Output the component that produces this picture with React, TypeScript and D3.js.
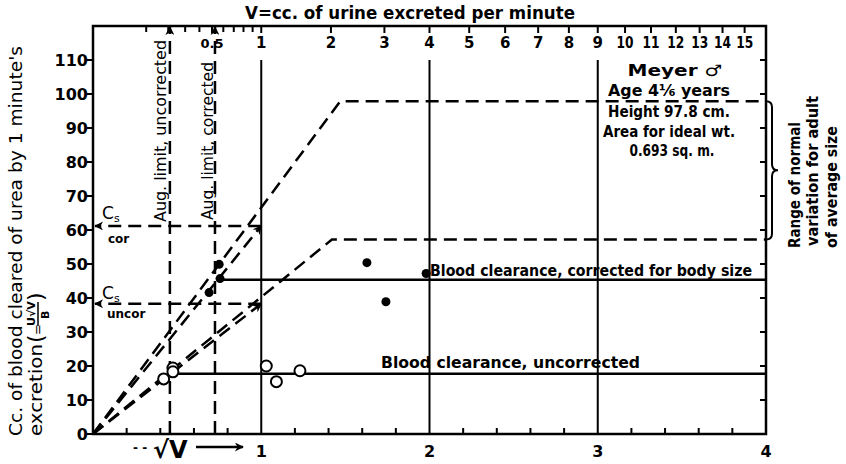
import React from "react";
import * as d3 from "d3";

const width = 846;
const height = 464;
const left = 93;
const right = 766;
const top = 26;
const bottom = 434;

// axis values
const sqrtVTicks = [1, 2, 3, 4];
const sqrtVMinor = [0.2, 0.4, 0.6, 0.8, 1.2, 1.4, 1.6, 1.8, 2.2, 2.4, 2.6, 2.8, 3.2, 3.4, 3.6, 3.8];
const vLabels = [0.5, 1, 2, 3, 4, 5, 6, 7, 8, 9, 10, 11, 12, 13, 14, 15];
const vMinor = [0.1, 0.2, 0.3, 0.4, 0.6, 0.7, 0.8, 0.9];
const yTicks = [0, 10, 20, 30, 40, 50, 60, 70, 80, 90, 100, 110];
const gridX = [1, 2, 3];

// observations [sqrt V, clearance]
const correctedPts = [
  [0.75, 49.9],
  [0.755, 45.7],
  [0.69, 41.6],
  [1.628, 50.4],
  [1.741, 38.9],
  [1.98, 47.2],
];
const uncorrectedPts = [
  [0.42, 16.2],
  [0.475, 19.4],
  [0.475, 18.3],
  [1.03, 20.0],
  [1.09, 15.4],
  [1.23, 18.6],
];

// derived lines
const clearanceCorrected = 45.4;
const clearanceUncorrected = 17.7;
const augLimitUncorrected = 0.457;
const augLimitCorrected = 0.725;
const csCorrected = 61.2;
const csUncorrected = 38.3;
const rangeUpper = [
  [0, 0],
  [1.47, 97.9],
  [4, 97.9],
];
const rangeLower = [
  [0, 0],
  [1.42, 57.2],
  [4, 57.2],
];

const font = "'DejaVu Sans', sans-serif";
const dash = "13 7";

export default function App() {
  const x = d3.scaleLinear().domain([0, 4]).range([left, right]);
  const y = d3.scaleLinear().domain([0, 120]).range([bottom, top]);
  const line = d3
    .line<number[]>()
    .x((d) => x(d[0]))
    .y((d) => y(d[1]));

  const yU = y(rangeUpper[1][1]);
  const yL = y(rangeLower[1][1]);
  const yM = (yU + yL) / 2;
  const bx = right + 6;
  const brace = `M${right},${yU} Q${bx},${yU} ${bx},${yU + 6} L${bx},${yM - 6} Q${bx},${yM} ${bx + 6},${yM} Q${bx},${yM} ${bx},${yM + 6} L${bx},${yL - 6} Q${bx},${yL} ${right},${yL}`;

  return (
    <svg
      width={width}
      height={height}
      style={{ position: "absolute", left: 0, top: 0, background: "#fff" }}
      fontFamily={font}
      fontWeight="bold"
    >
      <defs>
        <marker
          id="arr"
          viewBox="0 0 10 10"
          refX="9"
          refY="5"
          markerWidth="11"
          markerHeight="9"
          markerUnits="userSpaceOnUse"
          orient="auto"
        >
          <path d="M0,0 L10,5 L0,10 L3,5 z" fill="#000" />
        </marker>
      </defs>

      {/* title */}
      <text x={245} y={19} fontSize={17} textLength={330} lengthAdjust="spacingAndGlyphs">
        V=cc. of urine excreted per minute
      </text>

      {/* grid lines */}
      {gridX.map((d) => (
        <line key={d} x1={x(d)} x2={x(d)} y1={y(0)} y2={y(110)} stroke="#000" strokeWidth={2} />
      ))}

      {/* frame */}
      <rect x={left} y={top} width={right - left} height={bottom - top} fill="none" stroke="#000" strokeWidth={2.5} />

      {/* left axis */}
      {yTicks.map((d) => (
        <g key={d}>
          <line x1={left - 6} x2={left} y1={y(d)} y2={y(d)} stroke="#000" strokeWidth={2} />
          <line x1={right - 6} x2={right} y1={y(d)} y2={y(d)} stroke="#000" strokeWidth={2} />
          <text x={left - 5} y={y(d) + 6} fontSize={16} textAnchor="end">
            {d}
          </text>
        </g>
      ))}

      {/* bottom axis */}
      {sqrtVMinor.map((d) => (
        <line key={d} x1={x(d)} x2={x(d)} y1={bottom} y2={bottom - 6} stroke="#000" strokeWidth={2} />
      ))}
      {sqrtVTicks.map((d) => (
        <text key={d} x={x(d)} y={457} fontSize={16} textAnchor="middle">
          {d}
        </text>
      ))}
      <text x={133} y={452} fontSize={12}>- -</text>
      <text x={153} y={458} fontSize={24}>√V</text>
      <line x1={196} x2={243} y1={447} y2={447} stroke="#000" strokeWidth={2.5} markerEnd="url(#arr)" />

      {/* top axis, V = sqrtV^2 */}
      {vMinor.map((d) => (
        <line key={d} x1={x(Math.sqrt(d))} x2={x(Math.sqrt(d))} y1={top} y2={top + 6} stroke="#000" strokeWidth={2} />
      ))}
      {vLabels.map((d) => (
        <g key={d}>
          <line x1={x(Math.sqrt(d))} x2={x(Math.sqrt(d))} y1={top} y2={top + 7} stroke="#000" strokeWidth={2} />
          <text
            x={x(Math.sqrt(d))}
            y={top + 22}
            fontSize={d < 1 ? 13 : 15}
            textAnchor="middle"
            textLength={d >= 10 ? 17 : undefined}
            lengthAdjust="spacingAndGlyphs"
          >
            {d < 1 ? "0.5" : d}
          </text>
        </g>
      ))}

      {/* range of normal variation */}
      <path d={line(rangeUpper) || ""} fill="none" stroke="#000" strokeWidth={2.5} strokeDasharray={dash} />
      <path d={line(rangeLower) || ""} fill="none" stroke="#000" strokeWidth={2.5} strokeDasharray={dash} />
      <path d={brace} fill="none" stroke="#000" strokeWidth={2} />

      {/* standard clearance lines from origin */}
      <line x1={x(0)} y1={y(0)} x2={x(1)} y2={y(csCorrected)} stroke="#000" strokeWidth={2.5} strokeDasharray={dash} markerEnd="url(#arr)" />
      <line x1={x(0)} y1={y(0)} x2={x(1)} y2={y(csUncorrected)} stroke="#000" strokeWidth={2.5} strokeDasharray={dash} markerEnd="url(#arr)" />

      {/* Cs horizontals */}
      <line x1={x(1)} y1={y(csCorrected)} x2={left + 2} y2={y(csCorrected)} stroke="#000" strokeWidth={2.5} strokeDasharray={dash} markerEnd="url(#arr)" />
      <line x1={x(1)} y1={y(csUncorrected)} x2={left + 2} y2={y(csUncorrected)} stroke="#000" strokeWidth={2.5} strokeDasharray={dash} markerEnd="url(#arr)" />

      {/* augmentation limits */}
      <line x1={x(augLimitUncorrected)} y1={y(0)} x2={x(augLimitUncorrected)} y2={top + 1} stroke="#000" strokeWidth={2.5} strokeDasharray={dash} markerEnd="url(#arr)" />
      <line x1={x(augLimitCorrected)} y1={y(0)} x2={x(augLimitCorrected)} y2={top + 1} stroke="#000" strokeWidth={2.5} strokeDasharray={dash} markerEnd="url(#arr)" />

      {/* blood clearance */}
      <line x1={x(0.755)} x2={x(4)} y1={y(clearanceCorrected)} y2={y(clearanceCorrected)} stroke="#000" strokeWidth={2.5} />
      <line x1={x(augLimitUncorrected)} x2={x(4)} y1={y(clearanceUncorrected)} y2={y(clearanceUncorrected)} stroke="#000" strokeWidth={2.5} />

      {correctedPts.map((d, i) => (
        <circle key={i} cx={x(d[0])} cy={y(d[1])} r={4.5} fill="#000" />
      ))}
      {uncorrectedPts.map((d, i) => (
        <circle key={i} cx={x(d[0])} cy={y(d[1])} r={5.5} fill="#fff" stroke="#000" strokeWidth={2} />
      ))}

      {/* labels in the plot */}
      <text x={430} y={276} fontSize={16} textLength={322} lengthAdjust="spacingAndGlyphs">
        Blood clearance, corrected for body size
      </text>
      <text x={381} y={368} fontSize={16} textLength={259} lengthAdjust="spacingAndGlyphs">
        Blood clearance, uncorrected
      </text>

      <g transform="translate(166,222) rotate(-90)" fontWeight="normal">
        <text fontSize={15} textLength={182} lengthAdjust="spacingAndGlyphs">Aug. limit, uncorrected</text>
      </g>
      <g transform="translate(213,220) rotate(-90)" fontWeight="normal">
        <text fontSize={15} textLength={158} lengthAdjust="spacingAndGlyphs">Aug. limit, corrected</text>
      </g>

      <text x={102} y={219} fontSize={17} fontWeight="normal">
        C<tspan fontSize={11} dy={3}>s</tspan>
      </text>
      <text x={108} y={243} fontSize={12}>cor</text>
      <text x={102} y={299} fontSize={17} fontWeight="normal">
        C<tspan fontSize={11} dy={3}>s</tspan>
      </text>
      <text x={107} y={318} fontSize={12}>uncor</text>

      {/* subject box */}
      <g fontSize={16} textAnchor="middle">
        <text x={675} y={76} textLength={95} lengthAdjust="spacingAndGlyphs">Meyer ♂</text>
        <text x={669} y={96} textLength={122} lengthAdjust="spacingAndGlyphs">Age 4⅙ years</text>
        <text x={669} y={117} textLength={122} lengthAdjust="spacingAndGlyphs">Height 97.8 cm.</text>
        <text x={669} y={137} textLength={132} lengthAdjust="spacingAndGlyphs">Area for ideal wt.</text>
        <text x={672} y={156} textLength={85} lengthAdjust="spacingAndGlyphs">0.693 sq. m.</text>
      </g>

      {/* right note */}
      <g fontSize={15}>
        <g transform="translate(800,248) rotate(-90)">
          <text textLength={126} lengthAdjust="spacingAndGlyphs">Range of normal</text>
        </g>
        <g transform="translate(818,246) rotate(-90)">
          <text textLength={150} lengthAdjust="spacingAndGlyphs">variation for adult</text>
        </g>
        <g transform="translate(837,248) rotate(-90)">
          <text textLength={122} lengthAdjust="spacingAndGlyphs">of average size</text>
        </g>
      </g>

      {/* y axis label */}
      <g transform="translate(22,436) rotate(-90)" fontWeight="normal">
        <text fontSize={17} textLength={390} lengthAdjust="spacingAndGlyphs">
          Cc. of blood cleared of urea by 1 minute's
        </text>
      </g>
      <g transform="translate(42,436) rotate(-90)" fontWeight="normal">
        <text fontSize={17} textLength={92} lengthAdjust="spacingAndGlyphs">excretion</text>
        <text x={93} y={1} fontSize={22}>(</text>
        <text x={101} y={0} fontSize={13}>=</text>
        <text x={110} y={-7} fontSize={11} fontWeight="bold">U√V</text>
        <line x1={110} x2={134} y1={-4} y2={-4} stroke="#000" strokeWidth={1.5} />
        <text x={117} y={7} fontSize={11} fontWeight="bold">B</text>
        <text x={135} y={1} fontSize={22}>)</text>
      </g>
    </svg>
  );
}
